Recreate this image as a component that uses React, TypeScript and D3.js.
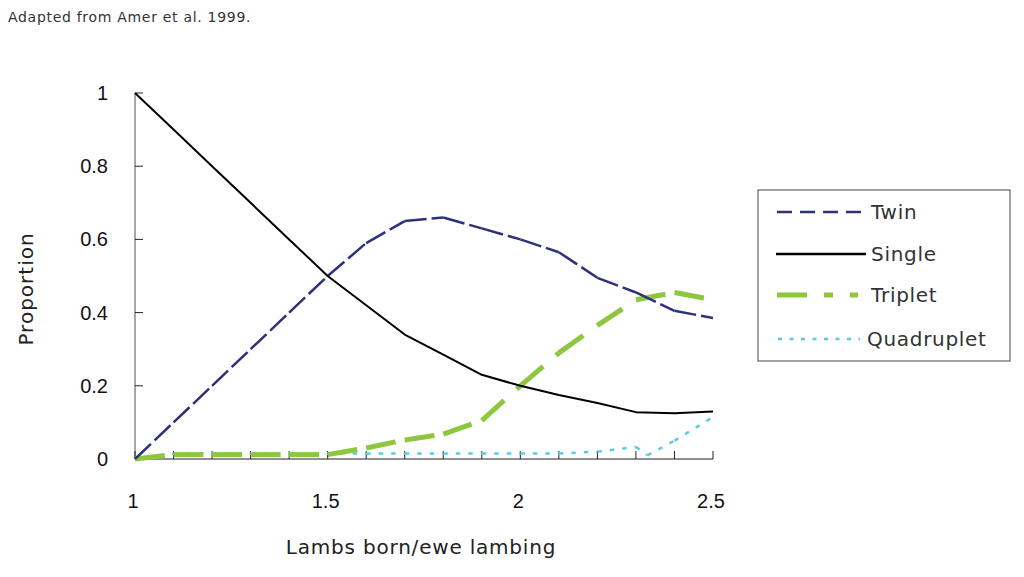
import React from 'react';
import * as d3 from 'd3';

const xValues = [1.0, 1.1, 1.2, 1.3, 1.4, 1.5, 1.6, 1.7, 1.8, 1.9, 2.0, 2.1, 2.2, 2.3, 2.4, 2.5];
const single = [1.0, 0.9, 0.8, 0.7, 0.6, 0.5, 0.42, 0.34, 0.285, 0.23, 0.2, 0.175, 0.153, 0.128, 0.125, 0.13];
const twin = [0, 0.1, 0.2, 0.3, 0.4, 0.5, 0.59, 0.65, 0.66, 0.63, 0.6, 0.565, 0.495, 0.455, 0.405, 0.385];
const triplet = [0, 0.012, 0.012, 0.012, 0.012, 0.012, 0.03, 0.052, 0.068, 0.105, 0.2, 0.29, 0.365, 0.435, 0.455, 0.435];
const quadX = [1.0, 1.1, 1.2, 1.3, 1.4, 1.5, 1.6, 1.7, 1.8, 1.9, 2.0, 2.1, 2.2, 2.3, 2.33, 2.4, 2.5];
const quadruplet = [0, 0.015, 0.015, 0.015, 0.015, 0.015, 0.015, 0.015, 0.015, 0.015, 0.015, 0.015, 0.02, 0.033, 0.01, 0.05, 0.115];
const xTickLabels = [1, 1.5, 2, 2.5];
const yTickLabels = [0, 0.2, 0.4, 0.6, 0.8, 1];
const legendLabels = ['Twin', 'Single', 'Triplet', 'Quadruplet'];

const FONT = "'DejaVu Sans', 'Noto Sans', sans-serif";
const NUMFONT = "'Liberation Sans', Arial, sans-serif";

export default function App() {
  const x = d3.scaleLinear().domain([1, 2.5]).range([135, 713]);
  const y = d3.scaleLinear().domain([0, 1]).range([459, 93]);
  const line = d3.line<[number, number]>().x(d => x(d[0])).y(d => y(d[1]));

  const pts = (xs: number[], ys: number[]) => xs.map((v, i) => [v, ys[i]] as [number, number]);
  const segments = (p: [number, number][]) => p.slice(1).map((d, i) => line([p[i], d]) as string);

  const xMinorTicks = d3.range(0, 16).map(i => 1 + i * 0.1);
  const yTicks = yTickLabels;

  const twinC = '#2e3178';
  const greenC = '#8dc63f';
  const cyanC = '#5ccbe0';

  const legendY = [212, 254, 295, 339];

  return (
    <div style={{ position: 'absolute', left: 0, top: 0 }}>
      <svg width={1024} height={577} style={{ display: 'block', background: '#fff' }}>
        <text x={8} y={22} fontFamily={FONT} fontSize={14} letterSpacing={0.7} fill="#333">Adapted from Amer et al. 1999.</text>

        {/* axes */}
        <line x1={135} x2={135} y1={y(1)} y2={y(0)} stroke="#888" strokeWidth={1.5} />
        <line x1={135} x2={713} y1={y(0)} y2={y(0)} stroke="#222" strokeWidth={1.2} />
        {yTicks.map(t => (
          <g key={'yt' + t}>
            <line x1={135} x2={143} y1={y(t)} y2={y(t)} stroke="#222" strokeWidth={1} />
            <text x={108} y={y(t) + 7} textAnchor="end" fontFamily={NUMFONT} fontSize={20} fill="#111">{t}</text>
          </g>
        ))}
        {xMinorTicks.map((t, i) => (
          <line key={'xt' + i} x1={x(t)} x2={x(t)} y1={y(0)} y2={y(0) - 8} stroke="#222" strokeWidth={1} />
        ))}
        {xTickLabels.map(t => (
          <text key={'xl' + t} x={x(t) - 2} y={508} textAnchor="middle" fontFamily={NUMFONT} fontSize={20} fill="#111">{t}</text>
        ))}

        <text x={421} y={554} textAnchor="middle" fontFamily={FONT} fontSize={20} letterSpacing={0.8} fill="#222">Lambs born/ewe lambing</text>
        <text transform="translate(33,289) rotate(-90)" textAnchor="middle" fontFamily={FONT} fontSize={20} letterSpacing={1} fill="#222">Proportion</text>

        {/* series */}
        {segments(pts(quadX, quadruplet)).map((d, i) => (
          <path key={'q' + i} d={d} fill="none" stroke={cyanC} strokeWidth={2.5} strokeDasharray="4.5,8" />
        ))}
        {segments(pts(xValues, triplet)).map((d, i) => (
          <path key={'tr' + i} d={d} fill="none" stroke={greenC} strokeWidth={5} strokeDasharray="30,17,9,17" />
        ))}
        {segments(pts(xValues, twin)).map((d, i) => (
          <path key={'tw' + i} d={d} fill="none" stroke={twinC} strokeWidth={2.5} strokeDasharray="22,5" />
        ))}
        <path d={line(pts(xValues, single)) as string} fill="none" stroke="#000" strokeWidth={2} strokeLinejoin="round" />

        {/* legend */}
        <rect x={758} y={190} width={252} height={171} fill="#fff" stroke="#444" strokeWidth={1} />
        <line x1={777} x2={862} y1={legendY[0]} y2={legendY[0]} stroke={twinC} strokeWidth={2.5} strokeDasharray="15,8" />
        <line x1={776} x2={866} y1={legendY[1]} y2={legendY[1]} stroke="#000" strokeWidth={2.5} />
        <line x1={777} x2={858} y1={legendY[2]} y2={legendY[2]} stroke={greenC} strokeWidth={5} strokeDasharray="30,17,9,17" />
        <line x1={778} x2={860} y1={legendY[3]} y2={legendY[3]} stroke={cyanC} strokeWidth={2.5} strokeDasharray="4,7.5" />
        {legendLabels.map((l, i) => (
          <text key={l} x={i === 3 ? 867 : 871} y={legendY[i] + 7} fontFamily={FONT} fontSize={20} letterSpacing={0.7} fill="#333">{l}</text>
        ))}
      </svg>
    </div>
  );
}
